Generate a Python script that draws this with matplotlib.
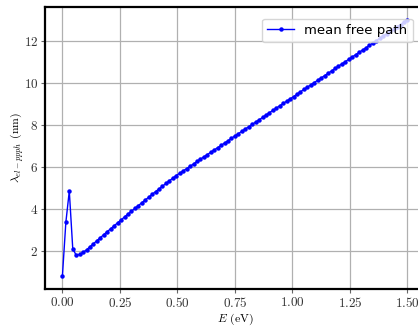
import matplotlib
matplotlib.use("Agg")
import matplotlib.pyplot as plt

# energy grid (eV) and mean free path (nm)
energy = [0.000, 0.015, 0.030, 0.045, 0.060, 0.075, 0.090, 0.105, 0.120, 0.135,
          0.150, 0.165, 0.180, 0.195, 0.210, 0.225, 0.240, 0.255, 0.270, 0.285,
          0.300, 0.315, 0.330, 0.345, 0.360, 0.375, 0.390, 0.405, 0.420, 0.435,
          0.450, 0.465, 0.480, 0.495, 0.510, 0.525, 0.540, 0.555, 0.570, 0.585,
          0.600, 0.615, 0.630, 0.645, 0.660, 0.675, 0.690, 0.705, 0.720, 0.735,
          0.750, 0.765, 0.780, 0.795, 0.810, 0.825, 0.840, 0.855, 0.870, 0.885,
          0.900, 0.915, 0.930, 0.945, 0.960, 0.975, 0.990, 1.005, 1.020, 1.035,
          1.050, 1.065, 1.080, 1.095, 1.110, 1.125, 1.140, 1.155, 1.170, 1.185,
          1.200, 1.215, 1.230, 1.245, 1.260, 1.275, 1.290, 1.305, 1.320, 1.335,
          1.350, 1.365, 1.380, 1.395, 1.410, 1.425, 1.440, 1.455, 1.470, 1.485,
          1.500]
mfp = [0.78, 3.35, 4.85, 2.10, 1.78, 1.82, 1.92, 2.04, 2.19, 2.33,
       2.48, 2.62, 2.77, 2.91, 3.05, 3.19, 3.33, 3.47, 3.61, 3.75,
       3.88, 4.02, 4.15, 4.29, 4.42, 4.55, 4.69, 4.82, 4.95, 5.08,
       5.21, 5.34, 5.46, 5.59, 5.70, 5.81, 5.92, 6.03, 6.14, 6.26,
       6.37, 6.48, 6.59, 6.70, 6.81, 6.92, 7.03, 7.14, 7.25, 7.37,
       7.48, 7.59, 7.70, 7.81, 7.92, 8.03, 8.14, 8.25, 8.36, 8.48,
       8.59, 8.70, 8.81, 8.92, 9.03, 9.14, 9.25, 9.36, 9.47, 9.59,
       9.70, 9.81, 9.92, 10.03, 10.14, 10.25, 10.36, 10.47, 10.58, 10.70,
       10.81, 10.92, 11.03, 11.14, 11.25, 11.36, 11.47, 11.58, 11.69, 11.81,
       11.92, 12.03, 12.14, 12.25, 12.36, 12.47, 12.58, 12.69, 12.80, 12.92,
       13.03]

plt.rcParams['font.family'] = 'serif'
plt.rcParams['font.serif'] = ['cmr10']
plt.rcParams['mathtext.fontset'] = 'cm'
plt.rcParams['axes.formatter.use_mathtext'] = True

fig = plt.figure(figsize=(4.18, 3.27), dpi=100)
ax = fig.add_axes([0.108, 0.116, 0.908, 0.863])

ax.plot(energy, mfp, '-o', color='blue', lw=1, ms=2.2, label='mean free path')

ax.grid(color='#b0b0b0', lw=0.9)
ax.set_axisbelow(True)
for s in ax.spines.values():
    s.set_linewidth(1.6)
ax.tick_params(labelsize=9.5, colors='#666666', labelcolor='#333333',
               length=3, pad=2)
ax.set_xticks([0.0, 0.25, 0.5, 0.75, 1.0, 1.25, 1.5])
ax.set_xlabel(r'$E$ (eV)', fontsize=8.5, labelpad=1)
ax.set_ylabel(r'$\lambda_{el-ppph}$ (nm)', fontsize=8.5, labelpad=-2)

ax.legend(loc='upper right', prop={'family': 'DejaVu Sans', 'size': 9.5},
          framealpha=0.8, edgecolor='#cccccc', borderaxespad=0.9)

fig.savefig('out.png', dpi=100)
